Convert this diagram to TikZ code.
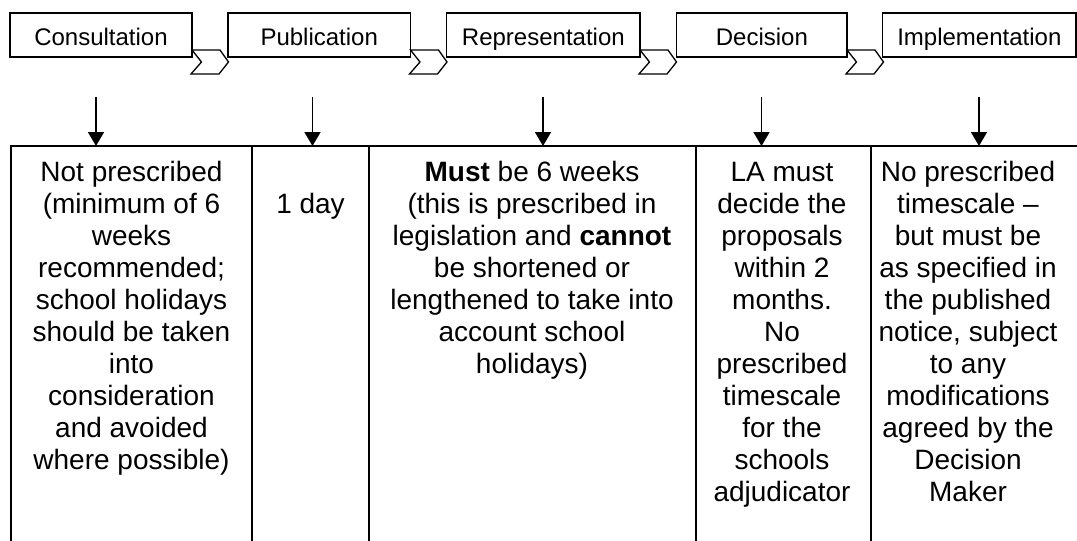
\documentclass[tikz,border=0pt]{standalone}
\usepackage{fontspec}
\setmainfont{Liberation Sans}
\usetikzlibrary{arrows.meta}
\begin{document}
\begin{tikzpicture}[x=1pt,y=-1pt,
  stage/.style={draw,line width=1.3pt,inner sep=0pt,minimum height=44pt,
    text height=20pt,text depth=0pt,font=\fontsize{24}{28}\selectfont},
  chev/.style={draw,fill=white,line width=1.3pt,line join=miter},
  grid/.style={line width=2pt},
  arr/.style={line width=1.6pt,-{Triangle[width=16pt,length=14pt]}},
  cell/.style={anchor=north,inner sep=0pt,align=center,font=\fontsize{28}{32}\selectfont}]
\useasboundingbox (0,0) rectangle (1077,541);
% stage boxes
\node[stage,minimum width=182pt]   (s1) at (101,35)    {Consultation};
\node[stage,minimum width=182.5pt] (s2) at (319.25,35) {Publication};
\node[stage,minimum width=193.3pt] (s3) at (543.35,35) {Representation};
\node[stage,minimum width=170.3pt] (s4) at (761.85,35) {Decision};
\node[stage,minimum width=193.3pt] (s5) at (979.35,35) {Implementation};
% chevrons
\foreach \r in {192,410.5,640,847}{
  \draw[chev] (\r,50) -- ++(28,0) -- ++(8.5,12) -- ++(-9.5,12) -- ++(-28,0) -- ++(10.5,-12) -- cycle;
}
% table grid
\coordinate (tl) at (10,146);
\coordinate (tr) at (1077,146);
\draw[grid] (tl) -- (tr);
\foreach \x [count=\i] in {11,252,369,695.5,870.5}{
  \coordinate (vt\i) at (\x,146);
  \coordinate (vb\i) at (\x,541);
  \draw[grid] (vt\i) -- (vb\i);
}
% arrows
\foreach \x [count=\i] in {96,312.5,543,761.5,979}{
  \coordinate (at\i) at (\x,97);
  \coordinate (ab\i) at (\x,146);
  \draw[arr] (at\i) -- (ab\i);
}
% cell texts (first baseline at 181)
\node[cell] (c1) at (131.5,158.6) {\strut Not prescribed\\(minimum of 6\\weeks\\recommended;\\school holidays\\should be taken\\into\\consideration\\and avoided\\where possible)};
\node[cell] (c2) at (310.5,190.6) {\strut 1 day};
\node[cell] (c3) at (532,158.6) {\strut\textbf{Must} be 6 weeks\\(this is prescribed in\\legislation and \textbf{cannot}\\be shortened or\\lengthened to take into\\account school\\holidays)};
\node[cell] (c4) at (782,158.6) {\strut LA must\\decide the\\proposals\\within 2\\months.\\No\\prescribed\\timescale\\for the\\schools\\adjudicator};
\node[cell] (c5) at (968,158.6) {\strut No prescribed\\timescale –\\but must be\\as specified in\\the published\\notice, subject\\to any\\modifications\\agreed by the\\Decision\\Maker};
\end{tikzpicture}
\end{document}
